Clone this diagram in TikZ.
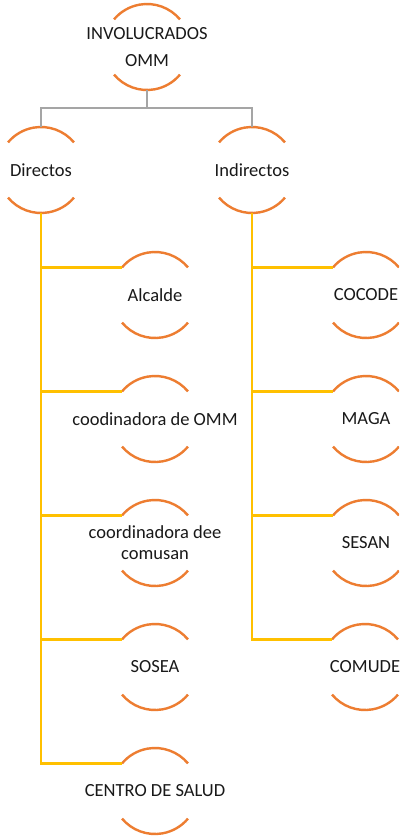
\documentclass[tikz,border=0pt]{standalone}
\usepackage{fontspec}
\setmainfont{Carlito}
\definecolor{arcorange}{HTML}{ED7D31}
\definecolor{lineyellow}{HTML}{FFC000}
\definecolor{linegray}{HTML}{A5A5A5}
\begin{document}
\begin{tikzpicture}[x=1pt,y=1pt,
  holder/.style={circle,minimum size=86pt,inner sep=0pt,outer sep=0pt},
  lbl/.style={font=\fontsize{18.5}{22}\selectfont,text=black!90,align=center,inner sep=0pt},
  arcline/.style={draw=arcorange,line width=2.4pt},
  grayline/.style={draw=linegray,line width=2pt},
  yellowline/.style={draw=lineyellow,line width=2.4pt}]
\useasboundingbox (0,0) rectangle (399,-838);
\clip (0,0) rectangle (399,-838);
\fill[white] (0,0) rectangle (399,-838);
% circle holders
\node[holder] (top) at (147,-47) {};
\node[holder] (dir) at (41,-170) {};
\node[holder] (ind) at (252,-170) {};
\node[holder] (alc) at (155,-295) {};
\node[holder] (coo) at (155,-419) {};
\node[holder] (cor) at (155,-543) {};
\node[holder] (sos) at (155,-667) {};
\node[holder] (cen) at (155,-791) {};
\node[holder] (coc) at (366,-295) {};
\node[holder] (mag) at (366,-419) {};
\node[holder] (ses) at (366,-543) {};
\node[holder] (com) at (365,-667) {};
% arcs (top and bottom of each circle)
\foreach \c in {top,dir,ind,alc,coo,cor,sos,cen,coc,mag,ses,com}{
  \draw[arcline] (\c.40) arc[start angle=40,end angle=140,radius=43pt];
  \draw[arcline] (\c.220) arc[start angle=220,end angle=320,radius=43pt];
}
% gray connectors
\coordinate (g) at (147,-108);
\draw[grayline] (top.south) -- (g);
\draw[grayline] (dir.north) |- (g) -| (ind.north);
% yellow connectors
\foreach \c in {alc,coo,cor,sos,cen}{
  \draw[yellowline] (dir.south) |- (\c.140);
}
\foreach \c in {coc,mag,ses,com}{
  \draw[yellowline] (ind.south) |- (\c.140);
}
% labels
\node[lbl,font=\fontsize{18.5}{27}\selectfont] at (top) {INVOLUCRADOS\\OMM};
\node[lbl] at (dir) {Directos};
\node[lbl] at (ind) {Indirectos};
\node[lbl] at (alc) {Alcalde};
\node[lbl] at (coo) {coodinadora de OMM};
\node[lbl,font=\fontsize{18.5}{21}\selectfont] at (cor) {coordinadora dee\\comusan};
\node[lbl] at (sos) {SOSEA};
\node[lbl] at (cen) {CENTRO DE SALUD};
\node[lbl] at (coc) {COCODE};
\node[lbl] at (mag) {MAGA};
\node[lbl] at (ses) {SESAN};
\node[lbl] at (com) {COMUDE};
\end{tikzpicture}
\end{document}
